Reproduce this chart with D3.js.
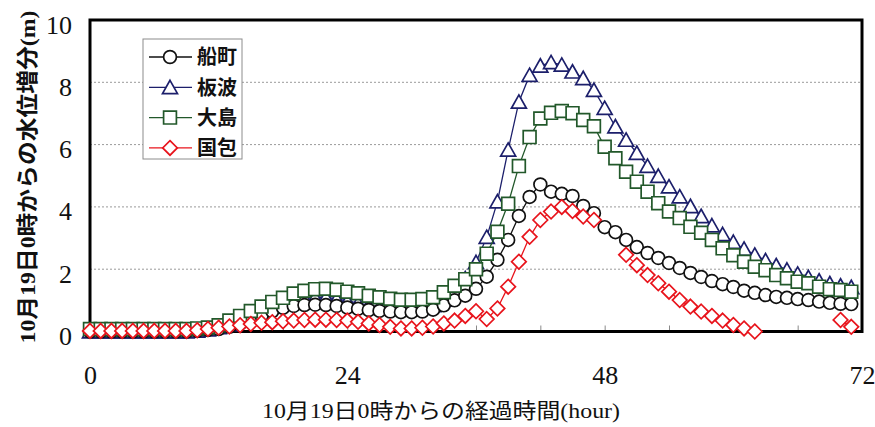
<!DOCTYPE html>
<html>
<head>
<meta charset="utf-8">
<script src="https://cdn.jsdelivr.net/npm/d3@7/dist/d3.min.js"></script>
<style>
  html, body { margin: 0; padding: 0; background: #ffffff; }
  svg { display: block; }
</style>
</head>
<body>
<svg id="chart" width="875" height="427"></svg>
<script>
// Elapsed hours since 0:00 on Oct 19
const hours = [0,1,2,3,4,5,6,7,8,9,10,11,12,13,14,15,16,17,18,19,20,21,22,23,
  24,25,26,27,28,29,30,31,32,33,34,35,36,37,38,39,40,41,42,43,44,45,46,47,
  48,49,50,51,52,53,54,55,56,57,58,59,60,61,62,63,64,65,66,67,68,69,70,71];

// Water-level rise (m) at each station
const funamachi = [0,0,0,0,0,0,0,0,0,0,0.02,0.05,0.08,0.15,0.25,0.38,0.5,0.65,0.76,0.82,0.85,0.86,0.85,0.82,
  0.77,0.73,0.69,0.66,0.64,0.62,0.62,0.64,0.7,0.84,1.0,1.15,1.37,1.76,2.3,2.94,3.71,4.32,4.72,4.49,4.42,4.35,4.03,3.8,
  3.35,3.19,2.94,2.71,2.52,2.36,2.2,2.04,1.88,1.75,1.62,1.52,1.43,1.31,1.24,1.17,1.11,1.08,1.04,1.01,0.96,0.92,0.89,0.88];

const itanami = [0,0,0,0,0,0,0,0,0,0,0.02,0.06,0.13,0.22,0.34,0.48,0.64,0.8,0.95,1.05,1.08,1.1,1.1,1.05,
  0.98,0.91,0.85,0.8,0.76,0.73,0.72,0.75,0.84,1.02,1.3,1.7,2.22,3.03,4.17,5.83,7.37,8.23,8.53,8.64,8.56,8.34,8.13,7.75,
  7.17,6.58,6.15,5.73,5.31,4.99,4.65,4.33,4.02,3.7,3.4,3.12,2.87,2.65,2.46,2.28,2.12,1.98,1.85,1.74,1.63,1.54,1.47,1.42];

const ooshima = [0.08,0.08,0.08,0.08,0.08,0.08,0.08,0.08,0.08,0.08,0.1,0.13,0.2,0.35,0.5,0.66,0.8,0.95,1.08,1.22,1.31,1.36,1.37,1.34,
  1.28,1.23,1.15,1.1,1.05,1.02,1.02,1.04,1.1,1.26,1.47,1.68,2.0,2.5,3.2,4.1,5.31,6.24,6.84,7.02,7.08,7.01,6.79,6.59,
  5.93,5.56,5.13,4.81,4.49,4.12,3.85,3.64,3.36,3.17,2.94,2.67,2.45,2.24,2.08,1.97,1.81,1.71,1.6,1.55,1.44,1.36,1.33,1.28];

const kunikane = [0.02,0.02,0.02,0.02,0.02,0.02,0.02,0.02,0.02,0.02,0.04,0.08,0.12,0.16,0.2,0.24,0.28,0.3,0.33,0.35,0.37,0.38,0.38,0.37,
  0.35,0.31,0.26,0.21,0.15,0.1,0.1,0.12,0.16,0.26,0.35,0.5,0.65,0.4,0.74,1.44,2.24,3.04,3.58,3.85,4.0,3.87,3.69,3.58,
  null,null,2.46,2.13,1.81,1.55,1.28,1.01,0.8,0.64,0.5,0.35,0.21,0.1,0.0,null,null,null,null,null,null,null,0.37,0.15];

const seriesNames = ["船町", "板波", "大島", "国包"];
const xTickLabels = [0, 24, 48, 72];
const yTickLabels = [0, 2, 4, 6, 8, 10];
const gridValues = [2, 4, 6, 8];

const svg = d3.select("#chart");
const plot = { left: 90, right: 862, top: 20, bottom: 331.5 };

const x = d3.scaleLinear().domain([0, 72]).range([plot.left, plot.right]);
const y = d3.scaleLinear().domain([0, 10]).range([plot.bottom, plot.top]);

// Marker shapes (centred on the point)
const shapes = {
  circle: "M6.4,0A6.4,6.4 0 1,1 -6.4,0A6.4,6.4 0 1,1 6.4,0Z",
  triangle: "M0,-7L7.5,6.3L-7.5,6.3Z",
  square: "M-6.4,-6.4H6.4V6.4H-6.4Z",
  diamond: "M0,-7.3L7.3,0L0,7.3L-7.3,0Z"
};

const series = [
  { name: seriesNames[1], values: itanami,  color: "#1c1f6b", shape: "triangle" },
  { name: seriesNames[0], values: funamachi, color: "#111111", shape: "circle" },
  { name: seriesNames[2], values: ooshima,  color: "#22582a", shape: "square" },
  { name: seriesNames[3], values: kunikane, color: "#e8141c", shape: "diamond" }
];

// Grid lines
svg.append("g").selectAll("line").data(gridValues).join("line")
  .attr("x1", plot.left).attr("x2", plot.right)
  .attr("y1", d => y(d)).attr("y2", d => y(d))
  .attr("stroke", "#9a9a9a").attr("stroke-width", 1)
  .attr("stroke-dasharray", "2,2");

// Minor ticks on the time axis (every 6 hours, pointing inward)
const tickAxis = d3.axisBottom(x).tickValues(d3.range(6, 72, 6))
  .tickSizeInner(-6).tickSizeOuter(0).tickFormat("");
const tg = svg.append("g").attr("transform", `translate(0,${plot.bottom})`).call(tickAxis);
tg.select(".domain").remove();
tg.selectAll(".tick line").attr("stroke", "#8a8a8a").attr("stroke-width", 1);

// Time axis labels
const xLab = d3.axisBottom(x).tickValues(xTickLabels).tickSize(0).tickPadding(34);
const xg = svg.append("g").attr("transform", `translate(0,${plot.bottom})`).call(xLab);
xg.select(".domain").remove();
xg.selectAll("text")
  .attr("font-family", "'Liberation Serif', 'Times New Roman', serif")
  .attr("font-size", 26).attr("fill", "#111");

// Water-level axis labels
const yLab = d3.axisLeft(y).tickValues(yTickLabels).tickSize(0).tickPadding(18);
const yg = svg.append("g").attr("transform", `translate(${plot.left},0)`).call(yLab);
yg.select(".domain").remove();
yg.selectAll("text")
  .attr("font-family", "'Liberation Serif', 'Times New Roman', serif")
  .attr("font-size", 26).attr("fill", "#111")
  .attr("dy", "0.5em");

// Plot frame
svg.append("rect")
  .attr("x", plot.left).attr("y", plot.top)
  .attr("width", plot.right - plot.left).attr("height", plot.bottom - plot.top)
  .attr("fill", "none").attr("stroke", "#000").attr("stroke-width", 3);

// Series: line first, then hollow markers
const line = d3.line()
  .defined(d => d.v !== null)
  .x(d => x(d.h)).y(d => y(d.v));

series.forEach(s => {
  const pts = hours.map((h, i) => ({ h: h, v: s.values[i] }));
  const g = svg.append("g");
  g.append("path").datum(pts)
    .attr("d", line).attr("fill", "none")
    .attr("stroke", s.color).attr("stroke-width", 1.3);
  g.selectAll("path.mk").data(pts.filter(d => d.v !== null)).join("path")
    .attr("class", "mk")
    .attr("d", shapes[s.shape])
    .attr("transform", d => `translate(${x(d.h)},${y(d.v)})`)
    .attr("fill", "#ffffff").attr("stroke", s.color).attr("stroke-width", 1.7);
});

// Legend
const legendItems = [
  { name: seriesNames[0], color: "#111111", shape: "circle" },
  { name: seriesNames[1], color: "#1c1f6b", shape: "triangle" },
  { name: seriesNames[2], color: "#22582a", shape: "square" },
  { name: seriesNames[3], color: "#e8141c", shape: "diamond" }
];
const lg = svg.append("g");
lg.append("rect").attr("x", 143).attr("y", 39).attr("width", 99).attr("height", 120)
  .attr("fill", "#ffffff").attr("stroke", "#8c8c8c").attr("stroke-width", 1);
const rows = lg.selectAll("g.row").data(legendItems).join("g")
  .attr("class", "row")
  .attr("transform", (d, i) => `translate(0,${57 + i * 30.3})`);
rows.append("line").attr("x1", 149).attr("x2", 192).attr("y1", 0).attr("y2", 0)
  .attr("stroke", d => d.color).attr("stroke-width", 1.3);
rows.append("path").attr("d", d => shapes[d.shape])
  .attr("transform", "translate(170,0)")
  .attr("fill", "#fff").attr("stroke", d => d.color).attr("stroke-width", 1.7);
rows.append("text").attr("x", 197).attr("y", 0).attr("dy", "0.36em")
  .attr("font-family", "'Noto Sans CJK JP', sans-serif")
  .attr("font-weight", "bold").attr("font-size", 20).attr("fill", "#111")
  .text(d => d.name);

// Axis titles
svg.append("text")
  .attr("x", 262).attr("y", 418)
  .attr("textLength", 358).attr("lengthAdjust", "spacingAndGlyphs")
  .attr("font-family", "'Liberation Serif', 'Noto Sans CJK JP', serif")
  .attr("font-size", 21).attr("fill", "#111")
  .text("10月19日0時からの経過時間(hour)");

svg.append("text")
  .attr("transform", "translate(35,177) rotate(-90)")
  .attr("text-anchor", "middle")
  .attr("textLength", 333).attr("lengthAdjust", "spacingAndGlyphs")
  .attr("font-family", "'Liberation Serif', 'Noto Sans CJK JP', serif")
  .attr("font-weight", "bold")
  .attr("font-size", 22).attr("fill", "#111")
  .text("10月19日0時からの水位増分(m)");
</script>
</body>
</html>
